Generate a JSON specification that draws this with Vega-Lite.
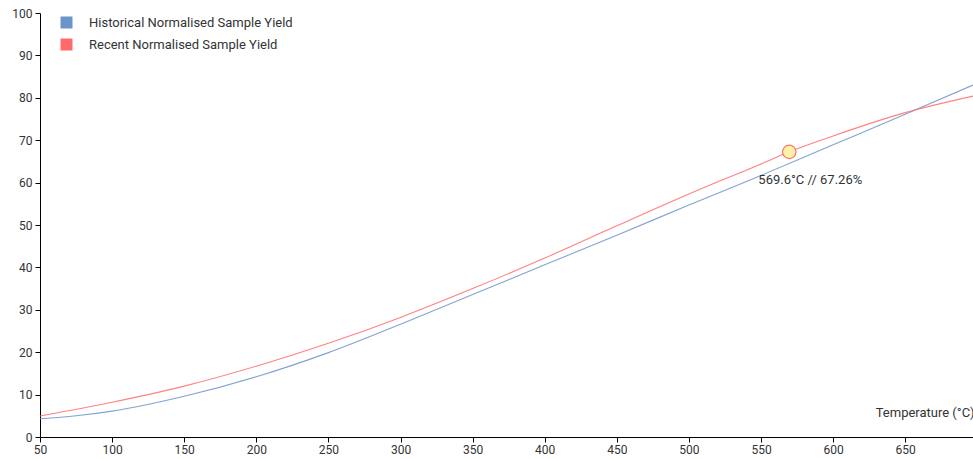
{
  "$schema": "https://vega.github.io/schema/vega-lite/v6.json",
  "width": 933,
  "height": 424,
  "autosize": {"type": "none"},
  "padding": {"left": 40, "top": 13, "right": 0, "bottom": 22},
  "config": {
    "font": "Roboto",
    "view": {"stroke": null},
    "axis": {"labelFont": "Roboto", "labelFontSize": 12, "labelColor": "#333", "domainColor": "#000", "tickColor": "#000", "grid": false, "titleFont": "Roboto", "titleFontWeight": "normal", "titleFontSize": 13, "titleColor": "#333"}
  },
  "datasets": {
    "curves": [
      {"temp": 50, "yield": 4.3, "series": "Historical Normalised Sample Yield"},
      {"temp": 75, "yield": 5.0, "series": "Historical Normalised Sample Yield"},
      {"temp": 100, "yield": 6.1, "series": "Historical Normalised Sample Yield"},
      {"temp": 150, "yield": 9.6, "series": "Historical Normalised Sample Yield"},
      {"temp": 200, "yield": 14.2, "series": "Historical Normalised Sample Yield"},
      {"temp": 250, "yield": 19.9, "series": "Historical Normalised Sample Yield"},
      {"temp": 300, "yield": 26.6, "series": "Historical Normalised Sample Yield"},
      {"temp": 350, "yield": 33.6, "series": "Historical Normalised Sample Yield"},
      {"temp": 400, "yield": 40.6, "series": "Historical Normalised Sample Yield"},
      {"temp": 450, "yield": 47.6, "series": "Historical Normalised Sample Yield"},
      {"temp": 500, "yield": 54.7, "series": "Historical Normalised Sample Yield"},
      {"temp": 550, "yield": 61.7, "series": "Historical Normalised Sample Yield"},
      {"temp": 600, "yield": 68.9, "series": "Historical Normalised Sample Yield"},
      {"temp": 650, "yield": 76.1, "series": "Historical Normalised Sample Yield"},
      {"temp": 697, "yield": 83.0, "series": "Historical Normalised Sample Yield"},
      {"temp": 50, "yield": 4.95, "series": "Recent Normalised Sample Yield"},
      {"temp": 100, "yield": 8.2, "series": "Recent Normalised Sample Yield"},
      {"temp": 150, "yield": 12.0, "series": "Recent Normalised Sample Yield"},
      {"temp": 200, "yield": 16.7, "series": "Recent Normalised Sample Yield"},
      {"temp": 250, "yield": 22.1, "series": "Recent Normalised Sample Yield"},
      {"temp": 300, "yield": 28.2, "series": "Recent Normalised Sample Yield"},
      {"temp": 350, "yield": 35.0, "series": "Recent Normalised Sample Yield"},
      {"temp": 400, "yield": 42.2, "series": "Recent Normalised Sample Yield"},
      {"temp": 450, "yield": 49.8, "series": "Recent Normalised Sample Yield"},
      {"temp": 500, "yield": 57.3, "series": "Recent Normalised Sample Yield"},
      {"temp": 550, "yield": 64.4, "series": "Recent Normalised Sample Yield"},
      {"temp": 569.6, "yield": 67.26, "series": "Recent Normalised Sample Yield"},
      {"temp": 600, "yield": 71.0, "series": "Recent Normalised Sample Yield"},
      {"temp": 650, "yield": 76.5, "series": "Recent Normalised Sample Yield"},
      {"temp": 697, "yield": 80.4, "series": "Recent Normalised Sample Yield"}
    ],
    "marker": [
      {"temp": 569.6, "yield": 67.26, "label": "569.6°C // 67.26%"}
    ]
  },
  "layer": [
    {
      "data": {"name": "curves"},
      "mark": {"type": "line", "interpolate": "monotone", "strokeWidth": 1.1, "strokeOpacity": 0.85},
      "encoding": {
        "x": {"field": "temp", "type": "quantitative", "scale": {"domain": [50, 697], "nice": false, "zero": false},
              "axis": {"values": [50, 100, 150, 200, 250, 300, 350, 400, 450, 500, 550, 600, 650], "title": "Temperature (°C)", "titleX": 934, "titleY": -21, "titleAlign": "right", "titleBaseline": "alphabetic", "titleAnchor": null, "labelFlush": false, "tickSize": 5, "labelPadding": 2}},
        "y": {"field": "yield", "type": "quantitative", "scale": {"domain": [0, 100], "nice": false},
              "axis": {"values": [0, 10, 20, 30, 40, 50, 60, 70, 80, 90, 100], "title": null, "tickSize": 5, "labelPadding": 3}},
        "color": {"field": "series", "type": "nominal",
                  "scale": {"domain": ["Historical Normalised Sample Yield", "Recent Normalised Sample Yield"], "range": ["#6b94c8", "#ff6b6b"]},
                  "legend": {"orient": "none", "legendX": 20, "legendY": 3, "title": null, "symbolType": "square", "symbolSize": 144, "symbolStrokeWidth": 0, "symbolOpacity": 1, "labelFont": "Roboto", "labelFontSize": 13, "labelColor": "#333", "labelLimit": 400, "rowPadding": 8, "labelOffset": 16,
                             "encode": {"symbols": {"update": {"fill": {"scale": "color", "field": "value"}, "fillOpacity": {"value": 1}}}}}}
      }
    },
    {
      "data": {"name": "marker"},
      "mark": {"type": "point", "shape": "circle", "filled": true, "size": 180, "fill": "#fff0a8", "stroke": "#f07a6a", "strokeWidth": 1.2, "opacity": 1},
      "encoding": {
        "x": {"field": "temp", "type": "quantitative"},
        "y": {"field": "yield", "type": "quantitative"}
      }
    },
    {
      "data": {"name": "marker"},
      "mark": {"type": "text", "dx": 21, "dy": 28, "fontSize": 13, "color": "#333", "font": "Roboto"},
      "encoding": {
        "x": {"field": "temp", "type": "quantitative"},
        "y": {"field": "yield", "type": "quantitative"},
        "text": {"field": "label"}
      }
    }
  ]
}
